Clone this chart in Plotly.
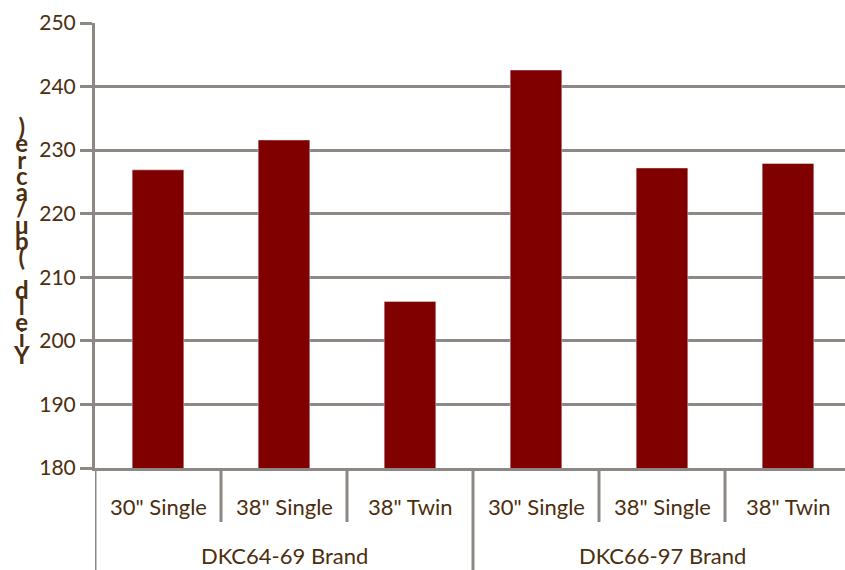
import plotly.graph_objects as go

groups = ["DKC64-69 Brand", "DKC64-69 Brand", "DKC64-69 Brand",
          "DKC66-97 Brand", "DKC66-97 Brand", "DKC66-97 Brand"]
subs = ['30" Single', '38" Single', '38" Twin', '30" Single', '38" Single', '38" Twin']
yields = [226.9, 231.6, 206.2, 242.6, 227.2, 227.9]
y_title = "Yield (bu/acre)"
y_ticks = [180, 190, 200, 210, 220, 230, 240, 250]

W, H = 845, 570
ML, MR, MT, MB = 95, 0, 23, 102
plot_h = H - MT - MB

grid_col = "#8e8884"
txt_col = "#4c2e0e"
font_fam = "Lato, 'Open Sans', sans-serif"

cats = [f"{g}|{s}" for g, s in zip(groups, subs)]

fig = go.Figure(go.Bar(x=cats, y=yields, marker_color="#800000", width=0.41))

def py(px):  # pixel offset below plot bottom -> paper coordinate
    return -px / plot_h

shapes = []
annotations = []
n = len(cats)
for i in range(n + 1):
    b = i - 0.5
    is_group_edge = i == 0 or i == n or groups[i] != groups[i - 1]
    shapes.append(dict(type="line", xref="x", yref="paper", x0=b, x1=b,
                       y0=0, y1=py(MB if is_group_edge else 54),
                       line=dict(color=grid_col, width=3)))
for c, s in zip(cats, subs):
    annotations.append(dict(x=c, y=py(38), xref="x", yref="paper", text=s,
                            showarrow=False, yanchor="middle",
                            font=dict(size=22, color=txt_col, family=font_fam)))
ug = []
for g in groups:
    if g not in ug:
        ug.append(g)
for g in ug:
    idx = [i for i, gg in enumerate(groups) if gg == g]
    annotations.append(dict(x=sum(idx) / len(idx), y=py(87), xref="x", yref="paper",
                            text=g, showarrow=False, yanchor="middle",
                            font=dict(size=22, color=txt_col, family=font_fam)))

# stacked vertical axis title (letters bottom to top, tightly packed as in the original)
lines = [f'<span style="font-size:24px"><b>{ch}</b></span>' if ch != " " else " "
         for ch in reversed(y_title)]
title_x = -(ML - 21) / (W - ML - MR)
annotations.append(dict(x=title_x, y=(H - 240 - MB) / plot_h, xref="paper", yref="paper",
                        xanchor="center", yanchor="middle", text="<br>".join(lines),
                        showarrow=False, align="center",
                        font=dict(size=12.5, color=txt_col, family=font_fam)))

fig.update_layout(
    width=W, height=H,
    margin=dict(l=ML, r=MR, t=MT, b=MB),
    paper_bgcolor="white", plot_bgcolor="white",
    showlegend=False,
    shapes=shapes, annotations=annotations,
    xaxis=dict(type="category", showticklabels=False, ticks="",
               range=[-0.5, n - 0.5 - 6 / 126],
               showline=True, linecolor=grid_col, linewidth=3, showgrid=False,
               zeroline=False),
    yaxis=dict(range=[180, 250], tickvals=y_ticks, showgrid=True, gridcolor=grid_col,
               gridwidth=3, showline=True, linecolor=grid_col, linewidth=3,
               ticks="outside", ticklen=12, tickwidth=3, tickcolor=grid_col,
               zeroline=False,
               tickfont=dict(size=21, color=txt_col, family=font_fam)),
)

fig.write_html("out.html")
